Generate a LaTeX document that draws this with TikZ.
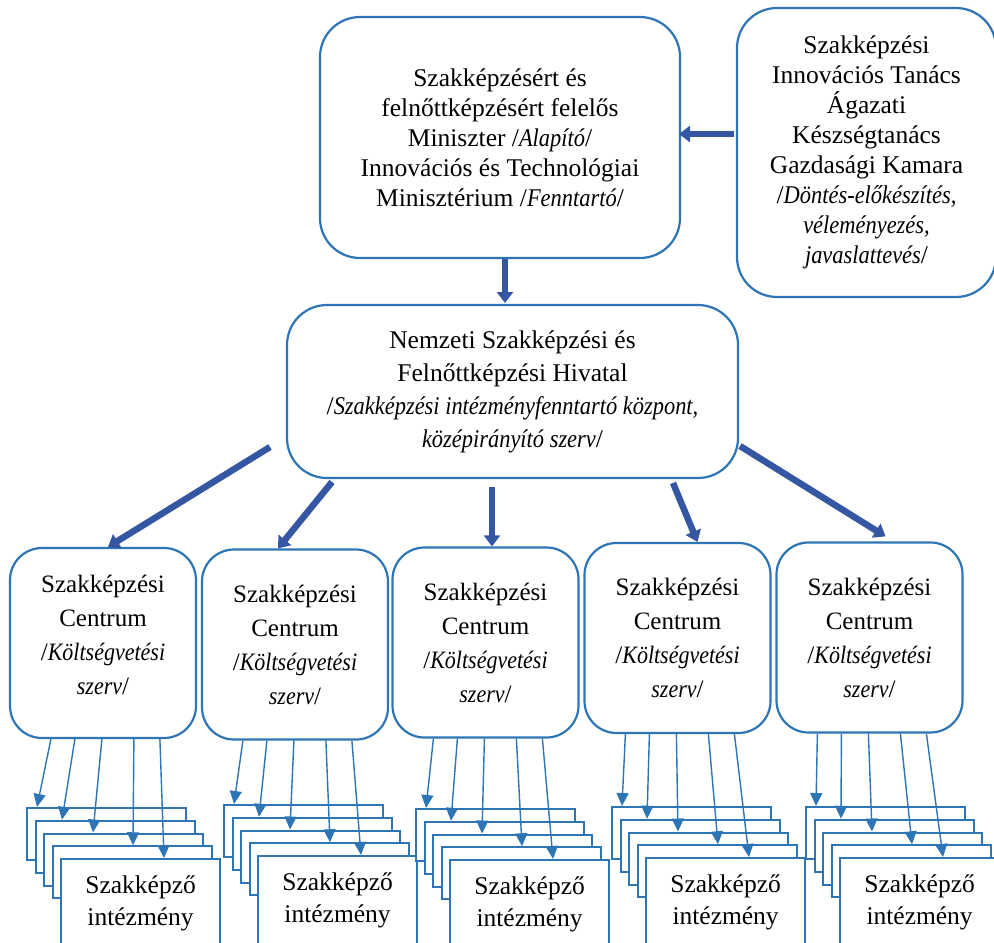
\documentclass[tikz,border=0pt]{standalone}
\usepackage{fontspec}
\setmainfont{Liberation Serif}[ItalicFeatures={FakeStretch=0.88}]
\usetikzlibrary{arrows.meta,calc}
\definecolor{bl}{HTML}{2E75B6}
\definecolor{dk}{HTML}{3557A3}
\begin{document}
\begin{tikzpicture}[x=1pt,y=-1pt,
  rbox/.style={draw=bl,line width=2.2pt,fill=white,align=center,inner sep=0pt},
  bigbox/.style={rbox,rounded corners=40pt,font=\fontsize{25.5}{30}\selectfont},
  csbox/.style={rbox,rounded corners=32pt,minimum width=186pt,minimum height=190pt,font=\fontsize{25}{34}\selectfont},
  inst/.style={draw=bl,line width=2.2pt,fill=white,anchor=north west,minimum width=159pt,inner sep=0pt,align=center,font=\fontsize{25.5}{32}\selectfont},
  bigarrow/.style={draw=dk,line width=6.5pt,-{Triangle[width=16pt,length=11pt]}},
  thinarrow/.style={draw=bl,line width=1.4pt,-{Triangle[width=12pt,length=13pt]}}]
\useasboundingbox (0,0) rectangle (994,943);

% top boxes
\node[bigbox,minimum width=360pt,minimum height=241pt] (top) at (500,137.5)
  {Szakképzésért és\\felnőttképzésért felelős\\Miniszter /\textit{Alapító}/\\Innovációs és Technológiai\\Minisztérium /\textit{Fenntartó}/};
\node[bigbox,minimum width=259pt,minimum height=289pt] (adv) at (866.5,152.5)
  {Szakképzési\\Innovációs Tanács\\Ágazati\\Készségtanács\\Gazdasági Kamara\\/\textit{Döntés-előkészítés,}\\\textit{véleményezés,}\\\textit{javaslattevés}/};
\node[bigbox,minimum width=451pt,minimum height=173pt,font=\fontsize{25.5}{33}\selectfont] (mid) at (512.5,391.5)
  {Nemzeti Szakképzési és\\Felnőttképzési Hivatal\\/\textit{Szakképzési intézményfenntartó központ,}\\\textit{középirányító szerv}/};

% thick arrows
\coordinate (advout) at (734,134);
\coordinate (topin) at (679,134);
\draw[bigarrow] (advout) -- (topin);
\coordinate (topout) at (505,259);
\coordinate (midin) at (505,303);
\draw[bigarrow] (topout) -- (midin);

% groups
\foreach \g/\cx/\cy/\rx/\ry/\ts in {1/103/643/26/807/-8, 2/295/644.5/223/804/0, 3/485.5/642.5/415/808/0, 4/677.5/638/611/806/0, 5/869.5/637.5/805/806/0}{
  \node[csbox] (cs\g) at (\cx,\cy) {};
  \node[align=center,inner sep=0pt,font=\fontsize{25}{34}\selectfont] (cst\g) at (\cx,{\cy+\ts}) {Szakképzési\\Centrum\\/\textit{Költségvetési}\\\textit{szerv}/};
  \foreach \k in {0,1,2,3}{
    \node[inst,minimum height=52pt] (r\g-\k) at ({\rx+8.5*\k},{\ry+12.75*\k}) {};
  }
  \node[inst,minimum height=88pt] (r\g-4) at ({\rx+34},{\ry+51}) {Szakképző\\intézmény};
  \draw[thinarrow] ([xshift=42pt]cs\g.south west) -- ([xshift=11pt]r\g-0.north west);
  \draw[thinarrow] ([xshift=66pt]cs\g.south west) -- ([xshift=27.5pt]r\g-1.north west);
  \draw[thinarrow] ([xshift=93pt]cs\g.south west) -- ([xshift=50pt]r\g-2.north west);
  \draw[thinarrow] ([xshift=125pt]cs\g.south west) -- ([xshift=81.5pt]r\g-3.north west);
  \draw[thinarrow] ([xshift=151pt]cs\g.south west) -- ([xshift=104pt]r\g-4.north west);
}

% arrows from the office to the centres
\coordinate (s1) at (270,447);
\coordinate (s2) at (332,482);
\coordinate (s3) at (492,487);
\coordinate (s4) at (673,483);
\coordinate (s5) at (740,446);
\draw[bigarrow] (s1) -- ([xshift=5pt]cs1.north);
\draw[bigarrow] (s2) -- ([xshift=-17pt]cs2.north);
\draw[bigarrow] (s3) -- ([xshift=6.5pt]cs3.north);
\draw[bigarrow] (s4) -- ([xshift=20pt]cs4.north);
\draw[bigarrow] (s5) -- ([xshift=16pt,yshift=5pt]cs5.north);
\end{tikzpicture}
\end{document}
